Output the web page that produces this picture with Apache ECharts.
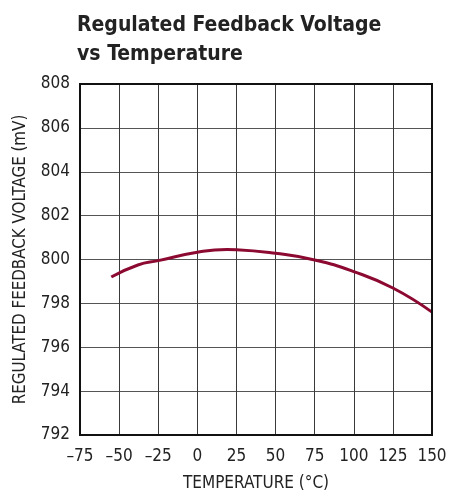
<!DOCTYPE html>
<html><head><meta charset="utf-8">
<script src="https://cdn.jsdelivr.net/npm/echarts@6/dist/echarts.min.js"></script>
<style>html,body{margin:0;padding:0;background:#fff}#c{width:462px;height:493px}</style>
</head><body><div id="c"></div>
<script>
const temps = [-55, -38, -25, 0, 19, 25, 50, 75, 100, 125, 150];
const volts = [799.2, 799.75, 799.95, 800.33, 800.46, 800.45, 800.28, 799.98, 799.45, 798.7, 797.6];
const xTicks = {min: -75, max: 150, interval: 25};
const yTicks = {min: 792, max: 808, interval: 2};
const titleText = 'Regulated Feedback Voltage\nvs Temperature';
const xName = 'TEMPERATURE (°C)';
const yName = 'REGULATED FEEDBACK VOLTAGE (mV)';

const font = '"Liberation Sans Narrow", "DejaVu Sans Condensed", "Liberation Sans", sans-serif';
const chart = echarts.init(document.getElementById('c'), null, {renderer: 'canvas'});
chart.setOption({
  animation: false,
  title: {text: titleText, left: 77, top: 11, padding: 0,
    textStyle: {fontFamily: font, fontWeight: 'bold', fontSize: 21, lineHeight: 29, color: '#222'}},
  grid: {left: 80, right: 30, top: 84, bottom: 58, containLabel: false, outerBoundsMode: 'none'},
  xAxis: {type: 'value', min: xTicks.min, max: xTicks.max, interval: xTicks.interval,
    name: xName, nameLocation: 'middle', nameGap: 40,
    nameTextStyle: {fontFamily: font, fontSize: 17, color: '#222'},
    axisLine: {show: true, lineStyle: {color: '#111', width: 2}},
    axisTick: {show: false},
    axisLabel: {fontFamily: font, fontSize: 17, color: '#222', margin: 13,
      formatter: v => String(v).replace('-', '\u2013')},
    splitLine: {show: true, lineStyle: {color: '#3a3a3a', width: 1}}},
  yAxis: {type: 'value', min: yTicks.min, max: yTicks.max, interval: yTicks.interval,
    name: yName, nameLocation: 'middle', nameGap: 51,
    nameTextStyle: {fontFamily: font, fontSize: 16.8, color: '#222'},
    axisLine: {show: true, onZero: false, lineStyle: {color: '#111', width: 2}},
    axisTick: {show: false},
    axisLabel: {fontFamily: font, fontSize: 17, color: '#222', margin: 10},
    splitLine: {show: true, lineStyle: {color: '#555', width: 1}}},
  series: [{type: 'line', data: temps.map((t, i) => [t, volts[i]]), smooth: 0.5,
    showSymbol: false, lineStyle: {color: '#8c0a32', width: 3}}],
  graphic: [
    {type: 'rect', shape: {x: 80, y: 84, width: 352, height: 351},
     style: {fill: 'none', stroke: '#111', lineWidth: 2}, z: 100}
  ]
});
</script></body></html>
